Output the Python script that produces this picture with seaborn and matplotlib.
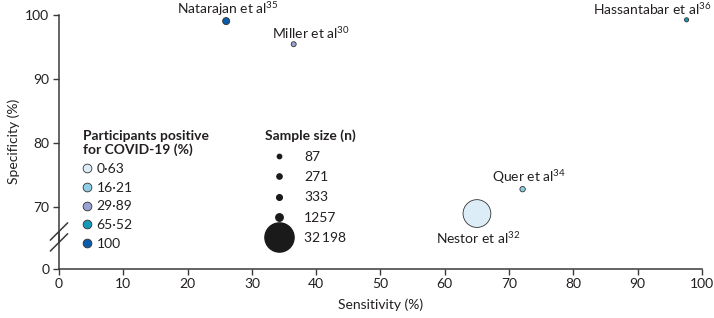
import pandas as pd
import matplotlib
matplotlib.use('Agg')
import matplotlib.pyplot as plt
import seaborn as sns
from matplotlib.lines import Line2D

# ==============================
# Data
# ==============================
studies = ['Natarajan et al$^{35}$', 'Miller et al$^{30}$', 'Hassantabar et al$^{36}$',
           'Quer et al$^{34}$', 'Nestor et al$^{32}$']
sensitivity = [26.0, 36.5, 97.6, 72.1, 65.0]
specificity = [99.0, 95.4, 99.2, 72.8, 69.0]
positive = ['100', '29·89', '65·52', '16·21', '0·63']
sample_size = [1257, 271, 87, 333, 32198]

positive_levels = ['0·63', '16·21', '29·89', '65·52', '100']
size_levels = [87, 271, 333, 1257, 32198]
size_labels = ['87', '271', '333', '1257', '32\u2009198']

palette = {'0·63': '#dcedf8', '16·21': '#8fcfe6', '29·89': '#9aa2d2',
           '65·52': '#1699b6', '100': '#0b5ba8'}
marker_areas = {87: 9, 271: 13, 333: 15, 1257: 26, 32198: 400}

df = pd.DataFrame({'study': studies, 'sens': sensitivity, 'spec': specificity,
                   'positive': positive, 'n': sample_size})

sns.set_style('white')
plt.rcParams['font.family'] = ['Lato', 'DejaVu Sans']
plt.rcParams['mathtext.fontset'] = 'custom'
plt.rcParams['mathtext.rm'] = 'Lato'
plt.rcParams['mathtext.it'] = 'Lato:italic'
plt.rcParams['mathtext.bf'] = 'Lato:bold'
text_col = '#231f20'
axis_col = '#3a3a3a'
fs = 10

fig = plt.figure(figsize=(7.14, 3.18), dpi=100)
ax = fig.add_axes([0.0826, 0.155, 0.9006, 0.7988])

sns.scatterplot(data=df, x='sens', y='spec', hue='positive', size='n',
                palette=palette, sizes=marker_areas, hue_order=positive_levels,
                edgecolor='#333333', linewidth=0.6, legend=False, ax=ax,
                clip_on=False, zorder=3)

# broken y axis: 0 sits just below the 70 tick
y_zero = 60.4
ax.set_xlim(0, 100)
ax.set_ylim(y_zero, 100)
ax.set_xticks(range(0, 101, 10))
ax.set_yticks([y_zero, 70, 80, 90, 100])
ax.set_yticklabels(['0', '70', '80', '90', '100'])
ax.tick_params(axis='both', direction='out', length=4, width=1, color=axis_col,
               labelsize=fs, labelcolor=text_col, pad=3, left=True, bottom=True)

for s in ['top', 'right']:
    ax.spines[s].set_visible(False)
for s in ['left', 'bottom']:
    ax.spines[s].set_color(axis_col)
    ax.spines[s].set_linewidth(1.1)
ax.spines['left'].set_bounds(64.5, 100)
ax.plot([0, 0], [y_zero, 66.2], color=axis_col, lw=1.1, clip_on=False,
        transform=ax.get_yaxis_transform())
dx = 0.0135
for yc in [66.2, 64.5]:
    ax.plot([-dx, dx], [yc - 1.35, yc + 1.35], color=axis_col, lw=1.1, clip_on=False,
            transform=ax.get_yaxis_transform())

ax.set_xlabel('Sensitivity (%)', fontsize=fs, color=text_col, labelpad=6)
ax.set_ylabel('Specificity (%)', fontsize=fs, color=text_col, labelpad=4)

# study labels
offsets = {'Natarajan et al$^{35}$': (2, 12), 'Miller et al$^{30}$': (17, 11),
           'Hassantabar et al$^{36}$': (-34, 11), 'Quer et al$^{34}$': (6, 12),
           'Nestor et al$^{32}$': (1, -25)}
for _, row in df.iterrows():
    ax.annotate(row['study'], (row['sens'], row['spec']), xytext=offsets[row['study']],
                textcoords='offset pixels', ha='center', va='center',
                fontsize=fs, color=text_col, annotation_clip=False)

# legends
col_handles = [Line2D([], [], ls='', marker='o', markersize=6.3, markerfacecolor=palette[p],
                      markeredgecolor='#333333', markeredgewidth=0.6) for p in positive_levels]
leg1 = fig.legend(col_handles, positive_levels, title='Participants positive\nfor COVID-19 (%)',
                  loc='upper left', bbox_to_anchor=(0.106, 0.614), frameon=False,
                  fontsize=fs, title_fontproperties={'weight': 'bold', 'size': fs},
                  handlelength=0.7, handletextpad=0.3, labelspacing=0.48,
                  borderpad=0, alignment='left', labelcolor=text_col)
leg1.get_title().set_color(text_col)

size_handles = [Line2D([], [], ls='', marker='o', markersize=marker_areas[n] ** 0.5 * 1.05,
                       markerfacecolor='#1a1a1a', markeredgecolor='#1a1a1a') for n in size_levels]
leg2 = fig.legend(size_handles, size_labels, title='Sample size (n)',
                  loc='upper left', bbox_to_anchor=(0.362, 0.614), frameon=False,
                  fontsize=fs, title_fontproperties={'weight': 'bold', 'size': fs},
                  handlelength=2.0, handletextpad=0.8, labelspacing=0.6,
                  borderpad=0, alignment='left', labelcolor=text_col)
leg2.get_title().set_color(text_col)

fig.savefig('out.png', dpi=100)
